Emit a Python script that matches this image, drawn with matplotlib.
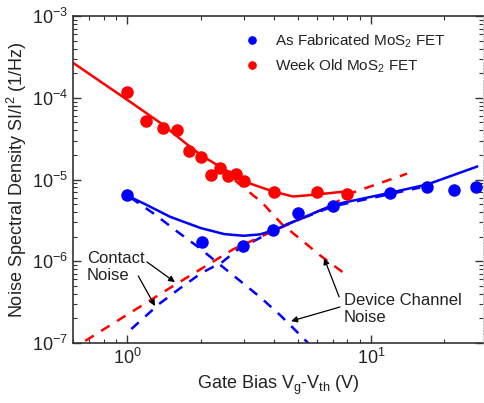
import matplotlib
matplotlib.use('Agg')
import matplotlib.pyplot as plt
from matplotlib.ticker import LogLocator, NullFormatter

# ------------------------- Data -------------------------
# measured points
fresh_vg = [1.0, 2.03, 2.99, 3.97, 5.02, 6.98, 11.96, 16.98, 21.9, 26.9]
fresh_noise = [6.38e-6, 1.7e-6, 1.52e-6, 2.39e-6, 3.85e-6, 4.8e-6, 6.75e-6, 8.2e-6, 7.55e-6, 8.2e-6]

old_vg = [1.0, 1.2, 1.4, 1.6, 1.8, 2.0, 2.2, 2.4, 2.6, 2.8, 3.0, 4.0, 6.0, 8.0]
old_noise = [1.18e-4, 5.25e-5, 4.3e-5, 4.07e-5, 2.26e-5, 1.9e-5, 1.15e-5, 1.4e-5,
             1.12e-5, 1.18e-5, 9.5e-6, 7.1e-6, 7.1e-6, 6.56e-6]

# fitted total noise (solid)
fresh_fit_vg = [1.0, 1.2, 1.5, 2.0, 2.5, 3.0, 3.5, 4.0, 5.0, 7.0, 12.0, 17.0, 27.2]
fresh_fit = [6.38e-6, 4.9e-6, 3.5e-6, 2.55e-6, 2.15e-6, 2.05e-6, 2.13e-6, 2.4e-6,
             3.2e-6, 4.9e-6, 6.9e-6, 8.7e-6, 1.44e-5]

old_fit_vg = [0.601, 1.0, 1.365, 1.81, 2.05, 2.40, 3.10, 3.97, 4.79, 6.01, 7.82]
old_fit = [2.67e-4, 9.46e-5, 4.96e-5, 2.52e-5, 1.91e-5, 1.44e-5, 9.2e-6, 7.14e-6,
           6.2e-6, 6.56e-6, 7.14e-6]

# contact noise components (dashed, rising)
fresh_contact_vg = [1.04, 1.35, 1.63, 2.01, 2.45, 2.85, 4.40, 6.98, 15.9]
fresh_contact = [1.48e-7, 2.99e-7, 4.56e-7, 7.14e-7, 9.72e-7, 1.40e-6, 2.75e-6, 4.69e-6, 7.98e-6]

old_contact_vg = [0.673, 1.54, 2.72, 4.12, 6.60, 8.44, 14.05]
old_contact = [1.06e-7, 4.96e-7, 1.40e-6, 2.46e-6, 4.56e-6, 6.94e-6, 1.18e-5]

# device channel noise components (dashed, falling)
fresh_channel_vg = [1.03, 1.30, 1.60, 1.94, 3.51, 4.24, 5.52]
fresh_channel = [6.03e-6, 3.74e-6, 2.32e-6, 1.52e-6, 3.64e-7, 2.19e-7, 1.0e-7]

old_channel_vg = [2.77, 3.57, 4.32, 5.21, 6.18, 8.05]
old_channel = [9.72e-6, 5.25e-6, 2.83e-6, 1.80e-6, 1.18e-6, 6.56e-7]

# ------------------------- Style -------------------------
plt.rcParams['font.family'] = ['Liberation Sans', 'DejaVu Sans']
plt.rcParams['mathtext.fontset'] = 'custom'
plt.rcParams['mathtext.rm'] = 'Liberation Sans'
plt.rcParams['mathtext.default'] = 'regular'

txt = '#222222'
blue = '#0000ff'
red = '#ff0000'

fig = plt.figure(figsize=(4.84, 4.03), dpi=100)
ax = fig.add_axes([0.151, 0.149, 0.847, 0.811])

dash = (4, 3.5)
ax.plot(fresh_channel_vg, fresh_channel, color=blue, lw=1.8, dashes=dash)
ax.plot(fresh_contact_vg, fresh_contact, color=blue, lw=1.8, dashes=dash)
ax.plot(old_channel_vg, old_channel, color=red, lw=1.8, dashes=dash)
ax.plot(old_contact_vg, old_contact, color=red, lw=1.8, dashes=dash)

ax.plot(fresh_fit_vg, fresh_fit, color=blue, lw=1.8)
ax.plot(old_fit_vg, old_fit, color=red, lw=1.8)

ax.plot(fresh_vg, fresh_noise, 'o', color=blue, ms=8, label='As Fabricated MoS$_2$ FET', zorder=5)
ax.plot(old_vg, old_noise, 'o', color=red, ms=8, label='Week Old MoS$_2$ FET', zorder=5)

ax.set_xscale('log')
ax.set_yscale('log')
ax.set_xlim(0.6, 28.8)
ax.set_ylim(1e-7, 1e-3)

ax.xaxis.set_major_locator(LogLocator(base=10))
ax.xaxis.set_minor_locator(LogLocator(base=10, subs=range(2, 10)))
ax.xaxis.set_minor_formatter(NullFormatter())
ax.yaxis.set_minor_locator(LogLocator(base=10, subs=range(2, 10), numticks=20))
ax.yaxis.set_minor_formatter(NullFormatter())

ax.tick_params(which='both', direction='in', top=True, right=True, colors='#333333',
               labelcolor=txt, labelsize=13)
ax.tick_params(which='major', length=6, width=1)
ax.tick_params(which='minor', length=3, width=0.8)
for side in ['left', 'bottom', 'top']:
    ax.spines[side].set_color('#333333')
    ax.spines[side].set_linewidth(1.2)
ax.spines['right'].set_color('#c8c8c8')
ax.spines['right'].set_linestyle(':')

ax.set_xlabel('Gate Bias V$_g$-V$_{th}$ (V)', fontsize=13, color=txt, labelpad=4)
ax.set_ylabel('Noise Spectral Density SI/I$^2$ (1/Hz)', fontsize=13, color=txt, labelpad=2)

leg = ax.legend(loc='upper left', bbox_to_anchor=(0.418, 0.951), frameon=False,
                fontsize=11, markerscale=0.65, handlelength=1.0, handletextpad=1.0,
                borderpad=0, borderaxespad=0, labelspacing=0.5)
for t in leg.get_texts():
    t.set_color(txt)

# annotations
ax.text(0.034, 0.232, 'Contact\nNoise', transform=ax.transAxes, fontsize=12,
        color=txt, ha='left', va='center', linespacing=1.2)
arrow = dict(arrowstyle='-|>', color='black', lw=0.9, mutation_scale=9, shrinkA=0, shrinkB=0)
ax.annotate('', xy=(1.57, 5.55e-7), xytext=(0.180, 0.248), xycoords='data',
            textcoords='axes fraction', arrowprops=arrow)
ax.annotate('', xy=(1.30, 2.83e-7), xytext=(0.159, 0.205), xycoords='data',
            textcoords='axes fraction', arrowprops=arrow)

ax.text(0.661, 0.104, 'Device Channel\nNoise', transform=ax.transAxes, fontsize=12,
        color=txt, ha='left', va='center', linespacing=1.2)
ax.annotate('', xy=(6.42, 1.09e-6), xytext=(0.649, 0.141), xycoords='data',
            textcoords='axes fraction', arrowprops=arrow)
ax.annotate('', xy=(4.70, 1.85e-7), xytext=(0.651, 0.110), xycoords='data',
            textcoords='axes fraction', arrowprops=arrow)

fig.savefig('out.png', dpi=100)
